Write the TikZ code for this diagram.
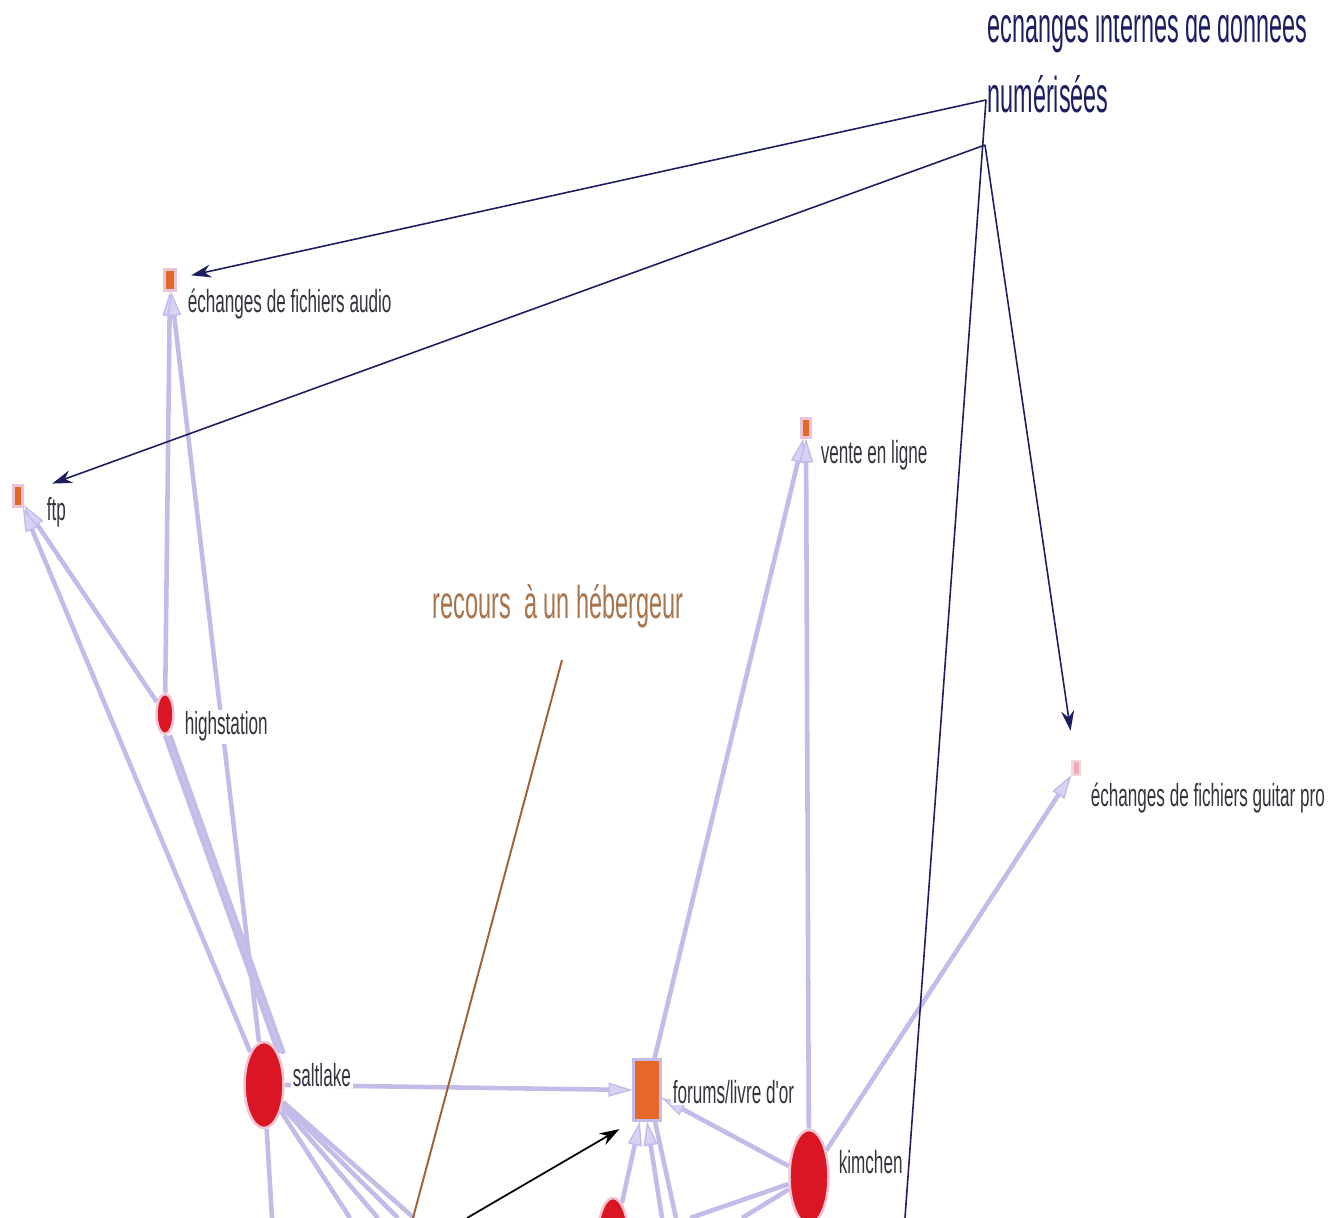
\documentclass[tikz,border=0pt]{standalone}
\usepackage{fontspec}
\usetikzlibrary{arrows.meta,shapes.geometric,backgrounds}
\newfontfamily\labfont[FakeStretch=0.535]{Liberation Sans}
\newfontfamily\titfont[FakeStretch=0.465]{Liberation Sans}
\newfontfamily\recfont[FakeStretch=0.51]{Liberation Sans}
\definecolor{lav}{RGB}{196,188,232}
\definecolor{lavtip}{RGB}{216,210,244}
\definecolor{navyc}{RGB}{28,30,96}
\definecolor{orng}{RGB}{230,104,40}
\definecolor{sqbg}{RGB}{232,196,214}
\definecolor{redn}{RGB}{218,22,36}
\definecolor{halo}{RGB}{240,196,212}
\definecolor{labc}{RGB}{52,52,62}
\definecolor{brownc}{RGB}{168,116,76}
\definecolor{brline}{RGB}{160,96,56}
\definecolor{pinkn}{RGB}{238,170,186}
\definecolor{pinkb}{RGB}{246,214,222}
\begin{document}
\begin{tikzpicture}[x=0.01cm,y=-0.01cm,
 lab/.style={font=\labfont\fontsize{9.1}{10}\selectfont, text=labc, anchor=base west, inner sep=0.6pt, fill=white},
 big/.style={font=\titfont\fontsize{14.3}{15}\selectfont, anchor=base west, inner sep=0pt},
 recstyle/.style={font=\recfont\fontsize{13.1}{14}\selectfont, anchor=base west, inner sep=0pt},
 sqnode/.style={rectangle, fill=orng, draw=sqbg, line width=0.03cm, inner sep=0},
 rednode/.style={ellipse, fill=redn, draw=halo, line width=0.025cm, inner sep=0},
 lavedge/.style={draw=lav, line width=1.3pt},
 lavarrow/.style={lavedge, -{Triangle[length=0.24cm,width=0.14cm,fill=lavtip,line width=0.4pt]}},
 navyarrow/.style={draw=navyc, line width=0.45pt, -{Stealth[length=0.2cm,width=0.13cm]}},
]
\useasboundingbox (0,0) rectangle (1341,1218);
% nodes
\node[sqnode, minimum width=0.10cm, minimum height=0.21cm] (audio) at (170,280) {};
\node[sqnode, minimum width=0.09cm, minimum height=0.20cm] (ftp) at (18,496) {};
\node[sqnode, minimum width=0.08cm, minimum height=0.18cm] (vente) at (806,428) {};
\node[rectangle, fill=pinkn, draw=pinkb, line width=0.02cm, minimum width=0.07cm, minimum height=0.13cm, inner sep=0] (guitar) at (1076,768) {};
\node[rectangle, fill=orng, draw=lav, line width=0.03cm, minimum width=0.26cm, minimum height=0.60cm, inner sep=0] (forums) at (647,1090) {};
\node[rednode, minimum width=0.17cm, minimum height=0.40cm] (hs) at (165,714) {};
\node[rednode, minimum width=0.39cm, minimum height=0.86cm] (sl) at (264,1085) {};
\node[rednode, minimum width=0.39cm, minimum height=0.94cm] (km) at (809,1177) {};
\node[rednode, minimum width=0.32cm, minimum height=0.90cm] (bn) at (613,1243) {};
% free ends
\coordinate (t1) at (986,100);
\coordinate (t2) at (985,145);
\coordinate (n4) at (905,1218);
\coordinate (b1) at (272,1218);
\coordinate (b2) at (350,1218);
\coordinate (b3) at (378,1218);
\coordinate (b4) at (398,1218);
\coordinate (b5) at (414,1218);
\coordinate (f1) at (662,1218);
\coordinate (f2) at (676,1218);
\coordinate (k1) at (690,1218);
\coordinate (k2) at (742,1218);
\coordinate (c1) at (467,1218);
\coordinate (r1) at (562,660);
\coordinate (r2) at (413,1218);
% labels
\node[lab] (laudio) at (185,312) {échanges de fichiers audio};
\node[lab] (lftp) at (44,521) {ftp};
\node[lab] (lvente) at (818,463) {vente en ligne};
\node[lab] (lguitar) at (1088,806) {échanges de fichiers guitar pro};
\node[lab] (lhs) at (182,735) {highstation};
\node[lab] (lsl) at (290,1086) {saltlake};
\node[lab] (lfo) at (670,1103) {forums/livre d'or};
\node[lab] (lkm) at (836,1173) {kimchen};
\node[recstyle, text=brownc] (rec) at (432,618) {recours\ \ à un hébergeur};
\begin{scope}
\clip (900,15) rectangle (1341,70);
\node[big, text=navyc] (tit1) at (987,43) {échanges internes de données};
\end{scope}
\node[big, text=navyc] (tit2) at (987,112) {numérisées};
% connectors
\begin{pgfonlayer}{background}
\fill[white] (0,0) rectangle (1341,1218);
\draw[lavarrow] (hs) -- (audio);
\draw[lavarrow] (sl) -- (audio);
\draw[lavarrow] (hs) -- (ftp);
\draw[lavarrow] (sl) -- (ftp);
\draw[lavedge] (hs.south) -- (sl.north east);
\draw[lavedge] ([xshift=0.05cm]hs.south) -- ([xshift=0.05cm]sl.north east);
\draw[lavedge] (sl) -- (b1);
\draw[lavedge] (sl) -- (b2);
\draw[lavedge] (sl) -- (b3);
\draw[lavedge] (sl) -- (b4);
\draw[lavedge] (sl) -- (b5);
\draw[lavarrow] (sl.east) -- (forums.west);
\draw[lavarrow] (forums) -- (vente);
\draw[lavarrow] (km) -- (vente);
\draw[lavarrow] (km) -- (forums);
\draw[lavarrow] (km) -- (guitar);
\draw[lavarrow] (bn) -- (forums);
\draw[lavarrow] (f1) -- (forums.south);
\draw[lavedge] (f2) -- ([xshift=0.08cm]forums.south);
\draw[lavedge] (km) -- (k1);
\draw[lavedge] (km) -- (k2);
\draw[navyarrow, shorten >=0.15cm] (t1) -- (audio);
\draw[navyarrow, shorten >=0.3cm] (t2) -- (ftp);
\draw[navyarrow, shorten >=0.3cm] (t2) -- (guitar);
\draw[draw=navyc, line width=0.45pt] (t1) -- (n4);
\draw[black, line width=0.5pt, -{Stealth[length=0.2cm,width=0.13cm]}, shorten >=0.15cm] (c1) -- (forums.south west);
\draw[brline, line width=0.55pt] (r1) -- (r2);
\end{pgfonlayer}
\end{tikzpicture}
\end{document}
